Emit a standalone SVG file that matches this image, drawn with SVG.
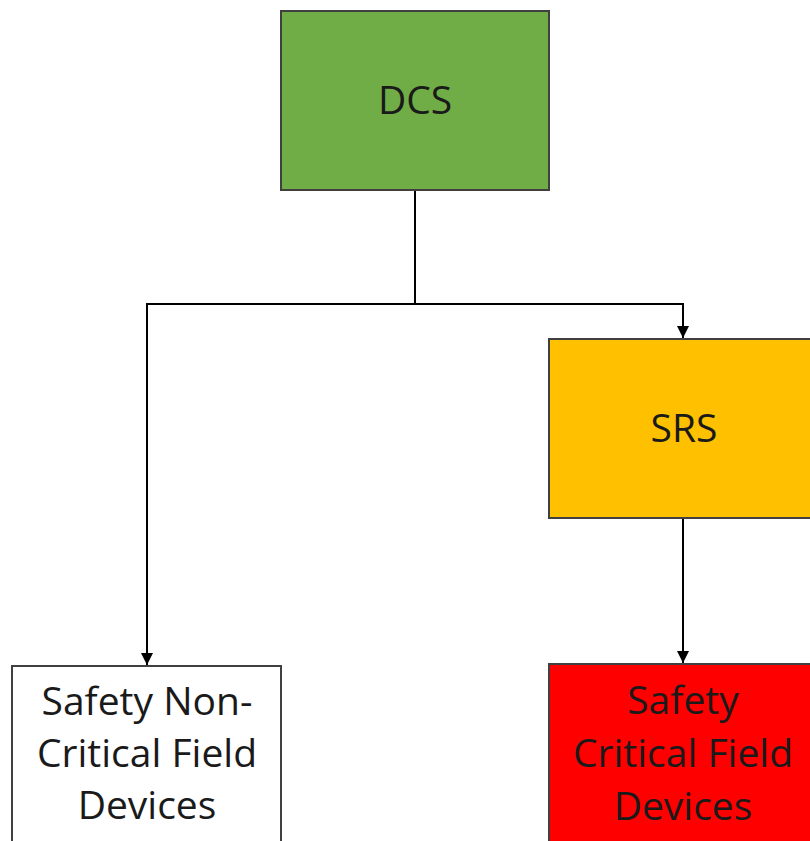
<svg xmlns="http://www.w3.org/2000/svg" width="810" height="841" viewBox="0 0 810 841">
<style>
.box{stroke:#404040;stroke-width:2}
.lbl{font-family:"Open Sans","Liberation Sans",sans-serif;font-size:39px;text-anchor:middle;fill:#1a1a1a}
.con{fill:none;stroke:#000;stroke-width:2}
</style>
<defs>
<marker id="arr" viewBox="0 0 12 12" refX="12" refY="6" markerWidth="12" markerHeight="12" markerUnits="userSpaceOnUse" orient="auto">
<path d="M0,0 L12,6 L0,12 Z" fill="#000"/>
</marker>
</defs>
<rect width="810" height="841" fill="#fff"/>
<g id="connectors">
<path class="con" d="M415,190 V304 H147 V665" marker-end="url(#arr)"/>
<path class="con" d="M415,304 H683 V338" marker-end="url(#arr)"/>
<path class="con" d="M683,518 V663" marker-end="url(#arr)"/>
</g>
<g id="dcs">
<rect class="box" x="281" y="11" width="268" height="179" fill="#70AD47"/>
<text class="lbl" x="415" y="114">DCS</text>
</g>
<g id="srs">
<rect class="box" x="549" y="339" width="268" height="179" fill="#FFC000"/>
<text class="lbl" x="684" y="442">SRS</text>
</g>
<g id="noncritical">
<rect class="box" x="12" y="666" width="269" height="190" fill="#fff" stroke="#595959"/>
<text class="lbl" x="147" y="715">Safety Non-</text>
<text class="lbl" x="147" y="767">Critical Field</text>
<text class="lbl" x="147" y="819">Devices</text>
</g>
<g id="critical">
<rect class="box" x="549" y="664" width="268" height="190" fill="#FF0000"/>
<text class="lbl" x="683" y="714">Safety</text>
<text class="lbl" x="683" y="767">Critical Field</text>
<text class="lbl" x="683" y="820">Devices</text>
</g>
</svg>
